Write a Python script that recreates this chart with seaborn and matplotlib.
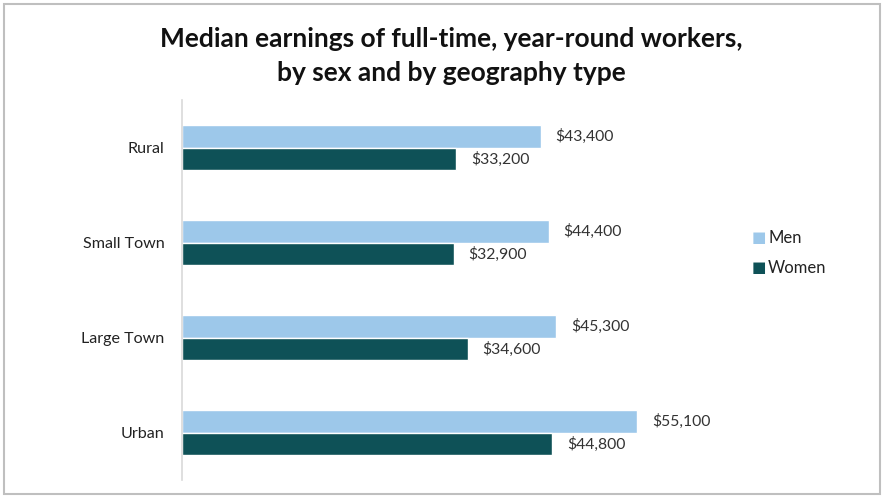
import pandas as pd
import matplotlib.pyplot as plt
import seaborn as sns
from matplotlib.patches import Rectangle

geografia = ['Rural', 'Small Town', 'Large Town', 'Urban']
homens = [43400, 44400, 45300, 55100]
mulheres = [33200, 32900, 34600, 44800]
series = ['Men', 'Women']
cores = ['#9DC8EA', '#0E5157']

dados = pd.DataFrame({
    'Tipo': geografia * 2,
    'Sexo': ['Men'] * len(geografia) + ['Women'] * len(geografia),
    'Ganhos': homens + mulheres,
})

sns.set_style('white')
plt.rcParams['font.family'] = ['Lato', 'DejaVu Sans']

fig = plt.figure(figsize=(8.84, 4.97), dpi=100)
ax = fig.add_axes([182 / 884, 1 - 480 / 497, (678 - 182) / 884, 380 / 497])

sns.barplot(data=dados, y='Tipo', x='Ganhos', hue='Sexo', order=geografia,
            hue_order=series, palette=cores, orient='h', width=0.48,
            saturation=1, ax=ax, legend=False)

for cont in ax.containers:
    ax.bar_label(cont, labels=['${:,.0f}'.format(v) for v in cont.datavalues],
                 padding=10.5, fontsize=11.3, color='#333333')

ax.set_xlim(0, 60000)
ax.set_ylim(3.5, -0.5)
ax.set_xlabel('')
ax.set_ylabel('')
ax.set_xticks([])
ax.tick_params(axis='y', length=0, pad=12.5, labelsize=11.6, labelcolor='#222222')
for lado in ['top', 'right', 'bottom']:
    ax.spines[lado].set_visible(False)
ax.spines['left'].set_color('#d9d9d9')
ax.spines['left'].set_linewidth(1.2)

for i, (nome, cor) in enumerate(zip(series, cores)):
    y = 238 + i * 30
    fig.text(759 / 884, 1 - y / 497, '\u25A0', color=cor, fontsize=11,
             ha='center', va='center', family='DejaVu Sans')
    fig.text(768 / 884, 1 - y / 497, nome, fontsize=12, color='#222222',
             ha='left', va='center')

fig.text(451 / 884, 1 - 56 / 497,
         'Median earnings of full-time, year-round workers,\nby sex and by geography type',
         ha='center', va='center', fontsize=19, fontweight='bold',
         linespacing=1.5, color='#111111')

fig.patches.append(Rectangle((4 / 884, 3 / 497), 876 / 884, 490 / 497,
                             transform=fig.transFigure, fill=False,
                             edgecolor='#bfbfbf', linewidth=1.5))

fig.savefig('out.png', dpi=100)
